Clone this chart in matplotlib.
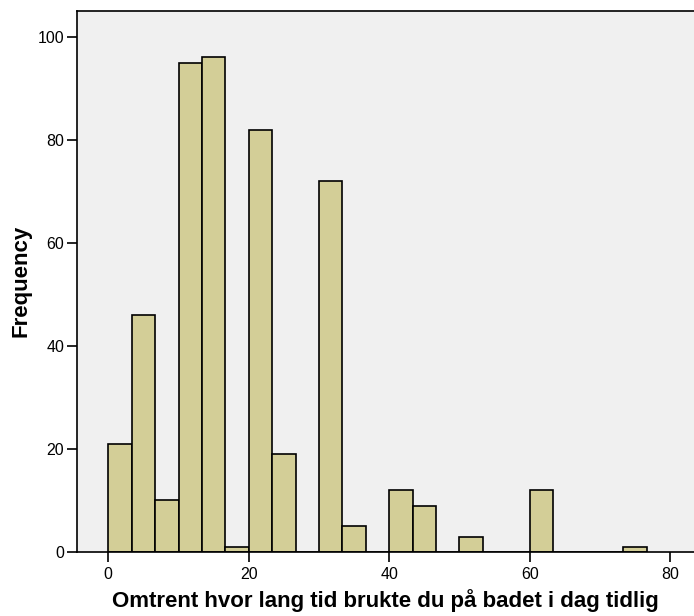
import numpy as np
import matplotlib.pyplot as plt

plt.rcParams['font.family'] = ['Liberation Sans', 'DejaVu Sans']

# histogram counts, bins of width 10/3 starting at 0
counts = [21, 46, 10, 95, 96, 1, 82, 19, 0, 72, 5, 0,
          12, 9, 0, 3, 0, 0, 12, 0, 0, 0, 1]
bin_width = 10 / 3
x_ticks = [0, 20, 40, 60, 80]
y_ticks = [0, 20, 40, 60, 80, 100]

edges = np.arange(len(counts)) * bin_width

fig = plt.figure(figsize=(6.94, 6.16), dpi=100)
ax = fig.add_axes([77.3 / 694, 64 / 616, 616.7 / 694, 541.5 / 616])
ax.set_facecolor('#f0f0f0')

ax.bar(edges, counts, width=bin_width, align='edge',
       color='#d3ce97', edgecolor='black', linewidth=1.2)

ax.set_xlim(-4.41, 83.4)
ax.set_ylim(0, 105.1)
ax.set_xticks(x_ticks)
ax.set_yticks(y_ticks)
ax.tick_params(axis='x', length=7, width=1.2, labelsize=11.5, pad=4)
ax.tick_params(axis='y', length=7, width=1.2, labelsize=11.5, pad=2.5)

ax.spines['right'].set_visible(False)
for s in ['left', 'top', 'bottom']:
    ax.spines[s].set_linewidth(1.2)

ax.set_xlabel('Omtrent hvor lang tid brukte du på badet i dag tidlig',
              fontsize=16, fontweight='bold', labelpad=5)
ax.set_ylabel('Frequency', fontsize=16, fontweight='bold', labelpad=4)

fig.savefig('out.png', dpi=100)
